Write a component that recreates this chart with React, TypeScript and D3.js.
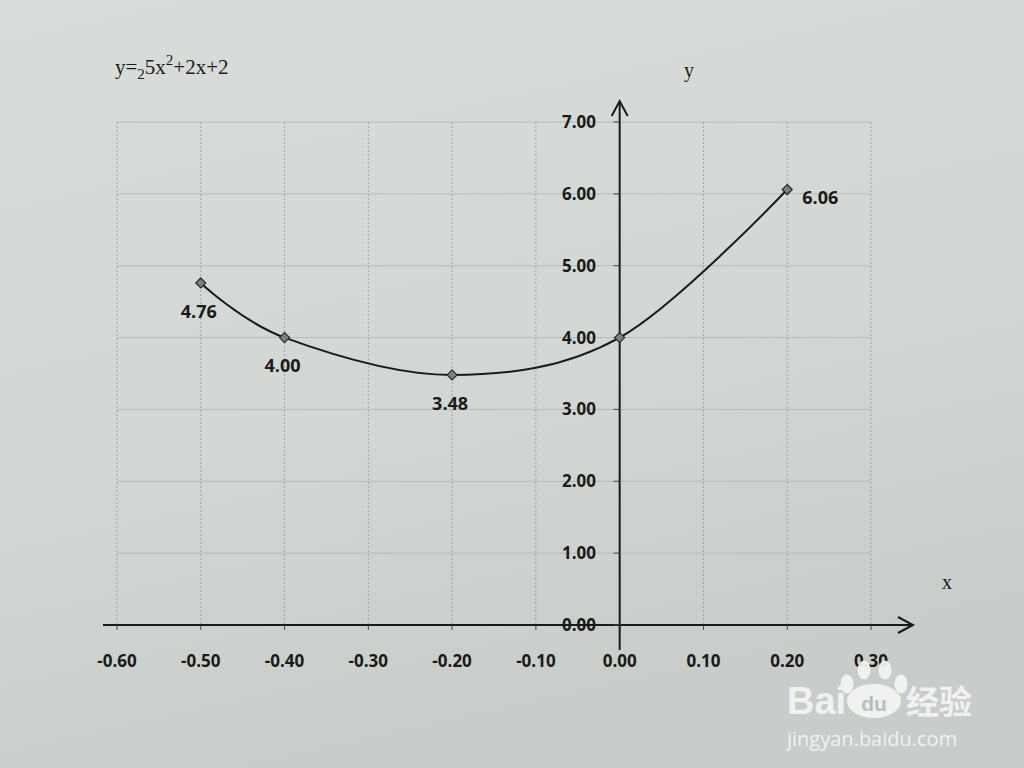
import React from "react";
import * as d3 from "d3";

const xValues = [-0.5, -0.4, -0.2, 0.0, 0.2];
const yValues = [4.76, 4.0, 3.48, 4.0, 6.06];
const pointLabels = ["4.76", "4.00", "3.48", "", "6.06"];
const xTicks = [-0.6, -0.5, -0.4, -0.3, -0.2, -0.1, 0.0, 0.1, 0.2, 0.3];
const yTicks = [0, 1, 2, 3, 4, 5, 6, 7];

const W = 1024;
const H = 768;

export default function App() {
  const x = d3.scaleLinear().domain([-0.6, 0.3]).range([117, 871]);
  const y = d3.scaleLinear().domain([0, 7]).range([625, 122]);
  const line = d3
    .line<number>()
    .x((_, i) => x(xValues[i]))
    .y((d) => y(d))
    .curve(d3.curveCardinal.tension(0));
  const pts = yValues;
  const sans = "'Open Sans', 'Liberation Sans', sans-serif";
  const serif = "'Liberation Serif', 'DejaVu Serif', serif";
  const x0 = x(0);
  const y0 = y(0);
  const labelPos = [
    { dx: -2, dy: 35, anchor: "middle" },
    { dx: -2, dy: 34, anchor: "middle" },
    { dx: -2, dy: 35, anchor: "middle" },
    { dx: 0, dy: 0, anchor: "middle" },
    { dx: 15, dy: 14, anchor: "start" },
  ];
  return (
    <svg
      width={W}
      height={H}
      style={{ position: "absolute", left: 0, top: 0, display: "block" }}
    >
      <defs>
        <linearGradient id="paper" x1="0" y1="0" x2="0.3" y2="1">
          <stop offset="0" stopColor="#d9ddd9" />
          <stop offset="0.6" stopColor="#d3d7d3" />
          <stop offset="1" stopColor="#c9cdc9" />
        </linearGradient>
      </defs>
      <rect x={0} y={0} width={W} height={H} fill="url(#paper)" />

      {/* horizontal gridlines */}
      {yTicks.map((t) => (
        <line
          key={"hg" + t}
          x1={x(-0.6)}
          x2={x(0.3)}
          y1={y(t)}
          y2={y(t)}
          stroke="#b4bab5"
          strokeWidth={1}
        />
      ))}
      {/* vertical gridlines */}
      {xTicks.map((t) => (
        <line
          key={"vg" + t}
          x1={x(t)}
          x2={x(t)}
          y1={y(7)}
          y2={y(0)}
          stroke="#9ea49f"
          strokeWidth={1}
          strokeDasharray="2,2"
        />
      ))}

      {/* x axis */}
      <line x1={103} x2={912} y1={y0} y2={y0} stroke="#1a1a1a" strokeWidth={2} />
      <path
        d={`M${898},${y0 - 8} L${913},${y0} L${898},${y0 + 8}`}
        fill="none"
        stroke="#1a1a1a"
        strokeWidth={2}
      />
      {xTicks.map((t) => (
        <line
          key={"xt" + t}
          x1={x(t)}
          x2={x(t)}
          y1={y0}
          y2={y0 + 5}
          stroke="#444"
          strokeWidth={1}
        />
      ))}
      {xTicks.map((t) => (
        <text
          key={"xl" + t}
          x={x(t)}
          y={667}
          textAnchor="middle"
          fontFamily={sans}
          fontWeight="bold"
          fontSize={17}
          fill="#1a1a1a"
        >
          {t.toFixed(2)}
        </text>
      ))}

      {/* y axis */}
      <line x1={x0} x2={x0} y1={102} y2={650} stroke="#1a1a1a" strokeWidth={2} />
      <path
        d={`M${x0 - 8},${116} L${x0},${101} L${x0 + 8},${116}`}
        fill="none"
        stroke="#1a1a1a"
        strokeWidth={2}
      />
      {yTicks.map((t) => (
        <line
          key={"yt" + t}
          x1={x0 - 6}
          x2={x0}
          y1={y(t)}
          y2={y(t)}
          stroke="#444"
          strokeWidth={1}
        />
      ))}
      {yTicks.map((t) => (
        <text
          key={"yl" + t}
          x={596}
          y={y(t) + 6}
          textAnchor="end"
          fontFamily={sans}
          fontWeight="bold"
          fontSize={17}
          fill="#1a1a1a"
        >
          {t.toFixed(2)}
        </text>
      ))}

      {/* axis names */}
      <text x={947} y={589} textAnchor="middle" fontFamily={serif} fontSize={20} fill="#1a1a1a">
        x
      </text>
      <text x={689} y={77} textAnchor="middle" fontFamily={serif} fontSize={20} fill="#1a1a1a">
        y
      </text>

      {/* title */}
      <text x={115} y={74} fontFamily={serif} fontSize={21} fill="#1a1a1a">
        <tspan>y=</tspan>
        <tspan fontSize={15} dy={5}>2</tspan>
        <tspan dy={-5}>5x</tspan>
        <tspan fontSize={15} dy={-9}>2</tspan>
        <tspan dy={9}>+2x+2</tspan>
      </text>

      {/* curve */}
      <path d={line(pts) || ""} fill="none" stroke="#1a1a1a" strokeWidth={2} />
      {pts.map((v, i) => {
        const cx = x(xValues[i]);
        const cy = y(v);
        return (
          <path
            key={"m" + i}
            d={`M${cx},${cy - 5} L${cx + 5},${cy} L${cx},${cy + 5} L${cx - 5},${cy} Z`}
            fill="#7d817e"
            stroke="#2a2a2a"
            strokeWidth={1.2}
          />
        );
      })}
      {pts.map((v, i) =>
        pointLabels[i] ? (
          <text
            key={"dl" + i}
            x={x(xValues[i]) + labelPos[i].dx}
            y={y(v) + labelPos[i].dy}
            textAnchor={labelPos[i].anchor}
            fontFamily={sans}
            fontWeight="bold"
            fontSize={18}
            fill="#1a1a1a"
          >
            {pointLabels[i]}
          </text>
        ) : null
      )}

      {/* watermark */}
      <g fill="#f4f6f4" opacity={0.92}>
        <text x={787} y={714} fontFamily="'Liberation Sans', sans-serif" fontWeight="bold" fontSize={38}>
          Bai
        </text>
        <ellipse cx={874} cy={701} rx={27} ry={17} />
        <ellipse cx={847} cy={684} rx={6.5} ry={9.5} />
        <ellipse cx={864} cy={670} rx={6.5} ry={9.5} />
        <ellipse cx={885} cy={670} rx={6.5} ry={9.5} />
        <ellipse cx={901} cy={684} rx={6.5} ry={9.5} />
        <text x={874} y={711} textAnchor="middle" fontFamily="'Liberation Sans', sans-serif" fontWeight="bold" fontSize={21} fill="#b9beba">
          du
        </text>
        <text x={906} y={714} fontFamily="'Noto Sans CJK SC', sans-serif" fontWeight="bold" fontSize={33}>
          经验
        </text>
        <text x={787} y={746} fontFamily="'Open Sans', sans-serif" fontSize={20}>
          jingyan.baidu.com
        </text>
      </g>
    </svg>
  );
}
